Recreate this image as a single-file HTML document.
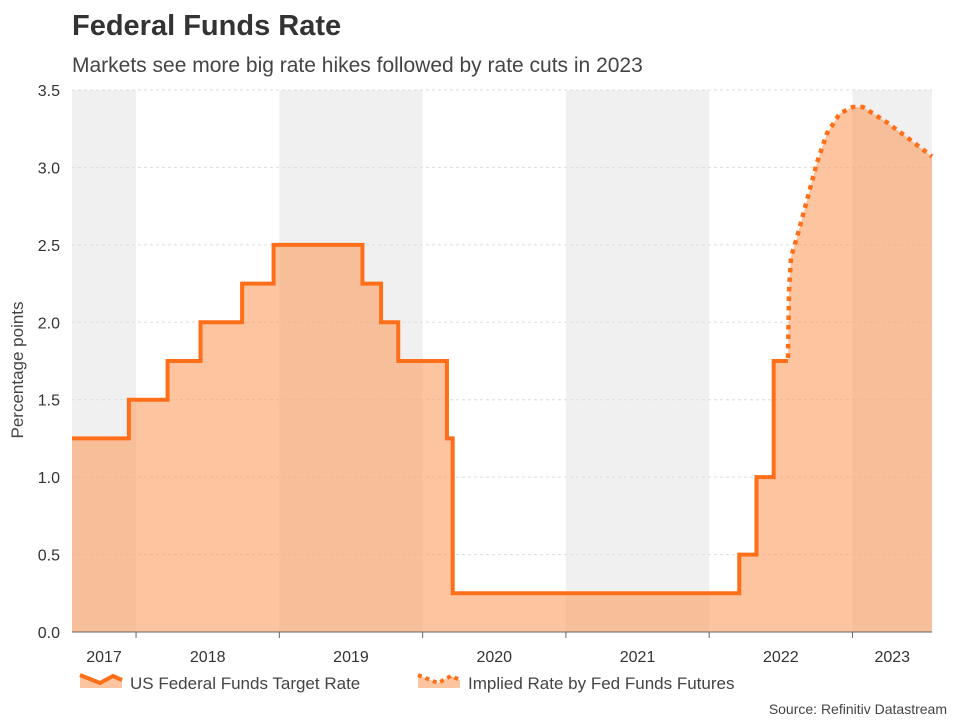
<!DOCTYPE html>
<html><head><meta charset="utf-8"><style>
body{margin:0;background:#fff;font-family:"Liberation Sans",Arial,sans-serif;}
svg text{font-family:"Liberation Sans",Arial,sans-serif;}
</style></head><body>
<svg id="chart" width="960" height="720">
<text x="72" y="35" font-size="29" font-weight="bold" fill="#333">Federal Funds Rate</text>
<text x="72" y="72" font-size="21" fill="#444">Markets see more big rate hikes followed by rate cuts in 2023</text>
<g id="bands"></g><g id="grid"></g><g id="area"></g><g id="lines"></g><g id="axes"></g>
<text transform="translate(23,370) rotate(-90)" text-anchor="middle" font-size="17" fill="#444">Percentage points</text>
<g>
<path d="M80,675 L100,683 L113,676 L122,680 L122,688 L80,688 Z" fill="rgb(251,158,95)" fill-opacity="0.6"/>
<path d="M80,675 L100,683 L113,676 L122,680" fill="none" stroke="#ff6f1a" stroke-width="4"/>
<text x="130" y="689" font-size="17" fill="#444">US Federal Funds Target Rate</text></g>
<g>
<path d="M418,675 L438,683 L451,676 L460,680 L460,688 L418,688 Z" fill="rgb(251,158,95)" fill-opacity="0.6"/>
<path d="M418,675 L438,683 L451,676 L460,680" fill="none" stroke="#ff6f1a" stroke-width="4" stroke-dasharray="4,4"/>
<text x="468" y="689" font-size="17" fill="#444">Implied Rate by Fed Funds Futures</text></g>
<text x="947" y="714" text-anchor="end" font-size="14" fill="#444">Source: Refinitiv Datastream</text>
</svg>
<script>
const yearLabels=[2017,2018,2019,2020,2021,2022,2023];
const yTicks=[0,0.5,1,1.5,2,2.5,3,3.5];
const stepTimes=[2017.553,2017.95,2018.22,2018.45,2018.74,2018.96,2019.58,2019.71,2019.83,2020.17,2020.21,2022.21,2022.33,2022.45];
const stepRates=[1.25,1.5,1.75,2.0,2.25,2.5,2.25,2.0,1.75,1.25,0.25,0.5,1.0,1.75];
const stepEnd=2022.55;
const futTimes=[2022.55,2022.557,2022.571,2022.613,2022.683,2022.752,2022.822,2022.913,2023.003,2023.073,2023.241,2023.401,2023.527,2023.555];
const futRates=[1.77,2.2,2.42,2.55,2.79,3.03,3.22,3.35,3.39,3.39,3.29,3.18,3.09,3.07];
const X0=72,X1=932,Y0=632,Y1=90,T0=2017.553,T1=2023.555;
const x=t=>X0+(t-T0)/(T1-T0)*(X1-X0);
const y=v=>Y0-v/3.5*(Y0-Y1);
const NS="http://www.w3.org/2000/svg";
function mk(p,tag,at){const e=document.createElementNS(NS,tag);for(const k in at)e.setAttribute(k,at[k]);document.getElementById(p).appendChild(e);return e;}
yearLabels.forEach((yr,i)=>{
 const a=Math.max(x(yr),X0),b=Math.min(x(yr+1),X1);
 if(i%2==0){const r=mk('bands','rect',{x:a,y:Y1,width:b-a,height:Y0-Y1,fill:'#f0f0f0'});
 
 }
 const t=mk('axes','text',{x:(a+b)/2,y:662,'text-anchor':'middle','font-size':16,fill:'#333'});t.textContent=yr;
 
 
 if(yr>T0){const tk=mk('axes','line',{x1:x(yr),x2:x(yr),y1:Y0,y2:Y0+6,stroke:'#666'});
 
 }
});
yTicks.forEach(v=>{
 const g=mk('grid','line',{x1:X0,x2:X1,y1:y(v),y2:y(v),stroke:'#ddd','stroke-dasharray':'3,3'});
 
 
 const t=mk('axes','text',{x:60,y:y(v)+6,'text-anchor':'end','font-size':16,fill:'#333'});t.textContent=v.toFixed(1);
 
 
});
const ax=mk('axes','line',{x1:X0,x2:X1,y1:Y0,y2:Y0,stroke:'#666'});


let sp='';
stepTimes.forEach((t,i)=>{sp+=(i?'L':'M')+x(t)+','+(i?y(stepRates[i-1]):y(stepRates[0]))+' L'+x(t)+','+y(stepRates[i])+' ';});
sp+='L'+x(stepEnd)+','+y(stepRates[stepRates.length-1]);
let fp='';futTimes.forEach((t,i)=>{fp+=(i?'L':'M')+x(t)+','+y(futRates[i])+' ';});
const area=mk('area','path',{d:sp+' '+fp.replace('M','L')+' L'+X1+','+Y0+' L'+X0+','+Y0+' Z',fill:'rgb(251,158,95)','fill-opacity':0.6});


const l1=mk('lines','path',{d:sp,fill:'none',stroke:'#ff6f1a','stroke-width':4});


const l2=mk('lines','path',{d:fp,fill:'none',stroke:'#ff6f1a','stroke-width':4.5,'stroke-dasharray':'4.5,5'});


</script>
</body></html>
